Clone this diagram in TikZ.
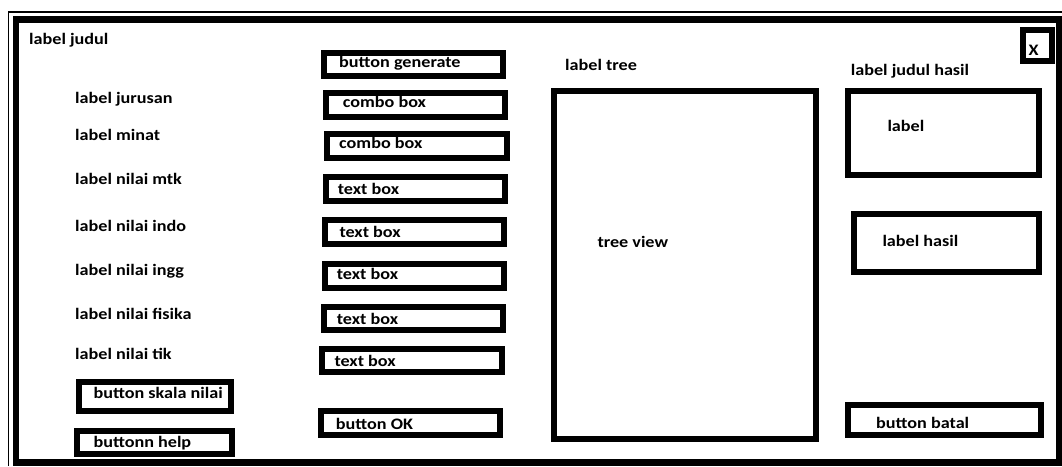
\documentclass[tikz,border=0pt]{standalone}
\usepackage{fontspec}
\setmainfont[FakeStretch=1.135]{Carlito}
\begin{document}
\begin{tikzpicture}[x=1pt,y=-1pt,
  uibox/.style={draw=black,line width=6pt,inner sep=0pt},
  lbl/.style={anchor=base west,inner sep=0pt,font=\fontsize{16}{19}\selectfont\bfseries}]
\useasboundingbox (0,0) rectangle (1062,466);
% window frame
\coordinate (f1) at (8.25,466);
\coordinate (f2) at (8.25,11.75);
\coordinate (f3) at (1062,11.75);
\draw[line width=1.5pt] (f1) -- (f2) -- (f3);
\coordinate (w1) at (16,19.5);
\coordinate (w2) at (1059,462.5);
\draw[line width=6.5pt] (w1) rectangle (w2);
% boxes
\node[uibox,minimum width=29pt,minimum height=31pt] (xbox) at (1037.5,45.5) {};
\node[uibox,minimum width=179pt,minimum height=23pt] (bgen) at (413.5,64.5) {};
\node[uibox,minimum width=179pt,minimum height=24pt] (cb1) at (415.5,105) {};
\node[uibox,minimum width=180pt,minimum height=24pt] (cb2) at (417,146) {};
\node[uibox,minimum width=179pt,minimum height=24pt] (tb1) at (415.5,189) {};
\node[uibox,minimum width=179pt,minimum height=24pt] (tb2) at (414.5,232) {};
\node[uibox,minimum width=179pt,minimum height=24pt] (tb3) at (414.5,276) {};
\node[uibox,minimum width=179pt,minimum height=23pt] (tb4) at (413.5,318.5) {};
\node[uibox,minimum width=180pt,minimum height=23pt] (tb5) at (412,360.5) {};
\node[uibox,minimum width=179pt,minimum height=24pt] (bok) at (410.5,423) {};
\node[uibox,minimum width=152pt,minimum height=29pt] (bskala) at (155,396.5) {};
\node[uibox,minimum width=155pt,minimum height=23pt] (bhelp) at (154.5,442.5) {};
\node[uibox,minimum width=262pt,minimum height=348pt] (tree) at (685,265) {};
\node[uibox,minimum width=191pt,minimum height=84pt] (lbox) at (943.5,133) {};
\node[uibox,minimum width=185pt,minimum height=58pt] (lhasil) at (946.5,243) {};
\node[uibox,minimum width=193pt,minimum height=30pt] (bbatal) at (944.5,420) {};
% texts
\node[lbl] (tjudul) at (29,44) {label judul};
\node[lbl] (tjur) at (75,103) {label jurusan};
\node[lbl] (tmin) at (75,140) {label minat};
\node[lbl] (tmtk) at (75,184) {label nilai mtk};
\node[lbl] (tindo) at (75,231.7) {label nilai indo};
\node[lbl] (tingg) at (75,275) {label nilai ingg};
\node[lbl] (tfis) at (75,319.3) {label nilai fisika};
\node[lbl] (ttik) at (75,359) {label nilai tik};
\node[lbl] (tskala) at (93.3,398.3) {button skala nilai};
\node[lbl] (thelp) at (93.3,447.3) {buttonn help};
\node[lbl] (tgen) at (339,67.5) {button generate};
\node[lbl] (tcb1) at (342.7,107.7) {combo box};
\node[lbl] (tcb2) at (339,148.3) {combo box};
\node[lbl] (ttb1) at (337.7,194) {text box};
\node[lbl] (ttb2) at (339.3,237) {text box};
\node[lbl] (ttb3) at (336.7,279) {text box};
\node[lbl] (ttb4) at (336.7,324.3) {text box};
\node[lbl] (ttb5) at (334.3,366) {text box};
\node[lbl] (tok) at (335.7,429) {button OK};
\node[lbl] (ttree) at (565,70) {label tree};
\node[lbl] (tview) at (597.3,247.7) {tree view};
\node[lbl] (tjh) at (850.7,75.7) {label judul hasil};
\node[lbl] (tl) at (887.3,131) {label};
\node[lbl] (tlh) at (882.3,246.7) {label hasil};
\node[lbl] (tbatal) at (876,428.5) {button batal};
\node[lbl] (tx) at (1028.5,55) {X};
\end{tikzpicture}
\end{document}
